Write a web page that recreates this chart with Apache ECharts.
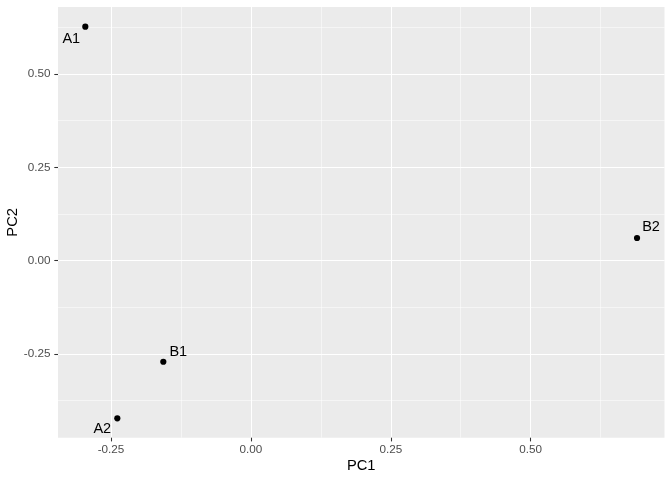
<!DOCTYPE html>
<html>
<head>
<meta charset="utf-8">
<script src="https://cdn.jsdelivr.net/npm/echarts@6/dist/echarts.min.js"></script>
<style>html,body{margin:0;padding:0;background:#fff}#c{width:672px;height:480px}</style>
</head>
<body>
<div id="c"></div>
<script>
// Data
var names = ['A1', 'A2', 'B1', 'B2'];
var pc1 = [-0.2959, -0.2387, -0.1565, 0.690];
var pc2 = [0.6268, -0.4222, -0.2706, 0.0608];
var xBreaks = [-0.25, 0, 0.25, 0.5];
var xMinorBreaks = [-0.125, 0.125, 0.375, 0.625];
var yBreaks = [-0.25, 0, 0.25, 0.5];
var yMinorBreaks = [-0.375, -0.125, 0.125, 0.375, 0.625];
var xRange = [-0.3447, 0.7391];
var yRange = [-0.4741, 0.6796];

// label placement (style only, like ggrepel)
var labelOffsets = {A1: [-14, 12], A2: [-15, 11], B1: [15, -10], B2: [14, -11]};

var font = '"Liberation Sans", Arial, Helvetica, sans-serif';
function fmt(v) { return v.toFixed(2); }

var points = names.map(function (n, i) {
  return {
    name: n,
    value: [pc1[i], pc2[i]],
    label: {offset: labelOffsets[n]}
  };
});

function mainAxis(range, breaks, pos, name, extra, margin) {
  var ax = {
    type: 'value', position: pos, min: range[0], max: range[1],
    name: name, nameLocation: 'middle', nameMoveOverlap: false,
    nameTextStyle: {color: '#000', fontSize: 14.7, fontFamily: font},
    axisLine: {show: false, onZero: false},
    axisTick: {show: true, length: 3.7, customValues: breaks, lineStyle: {color: '#333333', width: 1.07}},
    axisLabel: {show: true, customValues: breaks, formatter: fmt, color: '#4D4D4D', fontSize: 11.7, fontFamily: font, margin: margin},
    splitLine: {show: true, lineStyle: {color: '#FFFFFF', width: 1.07}},
    splitArea: {show: false}
  };
  for (var k in extra) ax[k] = extra[k];
  return ax;
}
function minorAxis(range, breaks, pos) {
  return {
    type: 'value', position: pos, min: range[0], max: range[1],
    axisLine: {show: false, onZero: false},
    axisTick: {show: false, customValues: breaks},
    axisLabel: {show: false, customValues: breaks},
    splitLine: {show: true, lineStyle: {color: '#FFFFFF', width: 0.53}}
  };
}

var chart = echarts.init(document.getElementById('c'), null, {renderer: 'canvas'});
chart.setOption({
  animation: false,
  grid: {left: 58, top: 7, right: 7.5, bottom: 42.3, show: true, backgroundColor: '#EBEBEB', borderWidth: 0, containLabel: false, outerBoundsMode: 'none'},
  xAxis: [
    mainAxis(xRange, xBreaks, 'bottom', 'PC1', {nameGap: 21}, 6.5),
    minorAxis(xRange, xMinorBreaks, 'bottom')
  ],
  yAxis: [
    mainAxis(yRange, yBreaks, 'left', 'PC2', {nameGap: 38, nameRotate: 90}, 7.5),
    minorAxis(yRange, yMinorBreaks, 'left')
  ],
  series: [{
    type: 'scatter',
    xAxisIndex: 0, yAxisIndex: 0,
    symbolSize: 6.2,
    itemStyle: {color: '#000000', opacity: 1},
    z: 5,
    label: {
      show: true, position: 'inside', formatter: '{b}',
      color: '#000', fontSize: 14.5, fontFamily: font,
      align: 'center', verticalAlign: 'middle'
    },
    data: points
  }]
});
</script>
</body>
</html>
